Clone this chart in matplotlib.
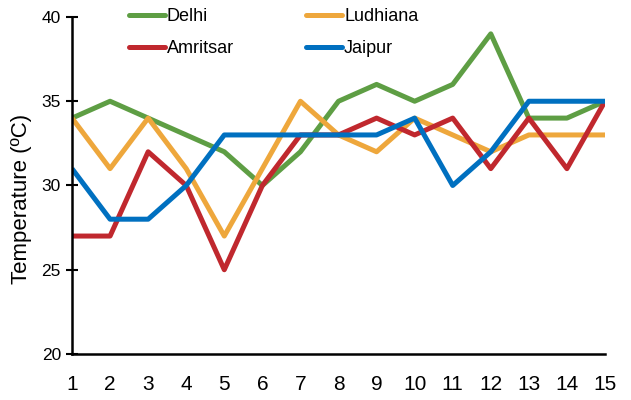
import matplotlib.pyplot as plt

plt.rcParams['font.family'] = ['Liberation Sans', 'DejaVu Sans']

days = list(range(1, 16))
delhi = [34, 35, 34, 33, 32, 30, 32, 35, 36, 35, 36, 39, 34, 34, 35]
ludhiana = [34, 31, 34, 31, 27, 31, 35, 33, 32, 34, 33, 32, 33, 33, 33]
amritsar = [27, 27, 32, 30, 25, 30, 33, 33, 34, 33, 34, 31, 34, 31, 35]
jaipur = [31, 28, 28, 30, 33, 33, 33, 33, 33, 34, 30, 32, 35, 35, 35]
y_ticks = [20, 25, 30, 35, 40]

COLORS = {
    'Delhi': '#5E9E44',
    'Ludhiana': '#EEA73C',
    'Amritsar': '#C0282E',
    'Jaipur': '#0070C0',
}

fig = plt.figure(figsize=(6.31, 4.0), dpi=100)
ax = fig.add_axes([72 / 631, 46 / 400, 533 / 631, 337 / 400])

lw = 3.6
h_delhi, = ax.plot(days, delhi, color=COLORS['Delhi'], lw=lw, label='Delhi', solid_capstyle='butt')
h_lud, = ax.plot(days, ludhiana, color=COLORS['Ludhiana'], lw=lw, label='Ludhiana', solid_capstyle='butt')
h_amr, = ax.plot(days, amritsar, color=COLORS['Amritsar'], lw=lw, label='Amritsar', solid_capstyle='butt')
h_jai, = ax.plot(days, jaipur, color=COLORS['Jaipur'], lw=lw, label='Jaipur', solid_capstyle='butt')

ax.set_xlim(1, 15)
ax.set_ylim(20, 40)
ax.set_xticks(days)
ax.set_yticks(y_ticks)
ax.tick_params(axis='x', length=0, pad=15, labelsize=15)
ax.tick_params(axis='y', direction='inout', length=8, width=1.5, pad=4, labelsize=12.5)
for s in ['top', 'right']:
    ax.spines[s].set_visible(False)
for s in ['left', 'bottom']:
    ax.spines[s].set_linewidth(1.8)
ax.spines['left'].set_zorder(5)

ax.set_ylabel('Temperature (ºC)', fontsize=16, labelpad=7)
ax.yaxis.label.set_y(0.46)

leg = ax.legend([h_delhi, h_amr, h_lud, h_jai], ['Delhi', 'Amritsar', 'Ludhiana', 'Jaipur'],
                ncol=2, frameon=False, loc='upper left',
                bbox_to_anchor=(129 / 631, 0.98), bbox_transform=fig.transFigure,
                fontsize=13, handlelength=2.0, handletextpad=0.1, columnspacing=4.0,
                labelspacing=0.85, borderpad=0, borderaxespad=0)
for line in leg.get_lines():
    line.set_linewidth(lw)
    line.set_solid_capstyle('round')

fig.savefig('out.png', dpi=100)
